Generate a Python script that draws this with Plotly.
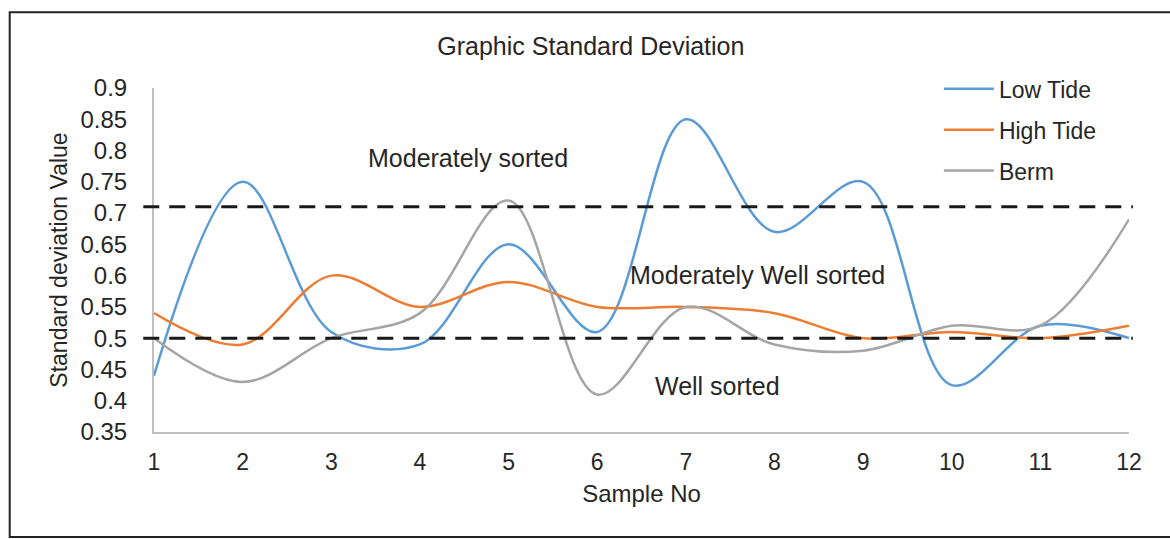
import plotly.graph_objects as go

# Sample numbers and graphic standard deviation values
samples = [1, 2, 3, 4, 5, 6, 7, 8, 9, 10, 11, 12]
low_tide = [0.44, 0.75, 0.51, 0.49, 0.65, 0.51, 0.85, 0.67, 0.75, 0.425, 0.52, 0.50]
high_tide = [0.54, 0.49, 0.60, 0.55, 0.59, 0.55, 0.55, 0.54, 0.50, 0.51, 0.50, 0.52]
berm = [0.50, 0.43, 0.50, 0.54, 0.72, 0.41, 0.55, 0.49, 0.48, 0.52, 0.52, 0.69]

# Sorting class boundaries
upper_limit = 0.71
lower_limit = 0.50

y_ticks = [0.35, 0.4, 0.45, 0.5, 0.55, 0.6, 0.65, 0.7, 0.75, 0.8, 0.85, 0.9]
y_tick_text = ["0.35", "0.4", "0.45", "0.5", "0.55", "0.6", "0.65", "0.7",
               "0.75", "0.8", "0.85", "0.9"]

FONT = "Liberation Sans, Arial, sans-serif"
TEXT = "#262626"

fig = go.Figure()
series = [("Low Tide", low_tide, "#5B9BD5"),
          ("High Tide", high_tide, "#ED7D31"),
          ("Berm", berm, "#A5A5A5")]
for name, vals, color in series:
    fig.add_trace(go.Scatter(
        x=samples, y=vals, name=name, mode="lines", legendgroup=name,
        line=dict(color=color, width=2.5, shape="spline", smoothing=1.0),
    ))

# Dashed class boundaries
for level in (upper_limit, lower_limit):
    fig.add_shape(type="line", xref="paper", yref="y",
                  x0=-0.011, x1=1.004, y0=level, y1=level,
                  line=dict(color="#1a1a1a", width=3, dash="16px,10px"))

# Outer frame
fig.add_shape(type="rect", xref="paper", yref="paper",
              x0=-0.148, x1=1.1, y0=-0.305, y1=1.22,
              line=dict(color="#222222", width=2), layer="above")

labels = [("Moderately sorted", 4.54, 0.788),
          ("Moderately Well sorted", 7.81, 0.601),
          ("Well sorted", 7.36, 0.4236)]
for text, x, y in labels:
    fig.add_annotation(x=x, y=y, text=text, showarrow=False,
                       font=dict(family=FONT, size=25, color=TEXT))

fig.update_layout(
    width=1170, height=539,
    margin=dict(l=154, r=41, t=88, b=107),
    paper_bgcolor="white", plot_bgcolor="white",
    font=dict(family=FONT, color=TEXT),
    title=dict(text="Graphic Standard Deviation", x=0.505, xanchor="center",
               y=0.915, yanchor="middle",
               font=dict(family=FONT, size=25, color=TEXT)),
    legend=dict(x=0.805, y=1.06, xanchor="left", yanchor="top",
                font=dict(family=FONT, size=23, color=TEXT),
                tracegroupgap=8, bgcolor="rgba(0,0,0,0)", itemwidth=50),
    xaxis=dict(range=[1, 12], tickvals=samples, showgrid=False, zeroline=False,
               showline=True, linecolor="#BFBFBF", linewidth=2, ticks="",
               tickfont=dict(family=FONT, size=23, color=TEXT), ticklabelstandoff=8,
               title=dict(text="Sample No", standoff=12,
                          font=dict(family=FONT, size=24, color=TEXT))),
    yaxis=dict(range=[0.35, 0.9], tickvals=y_ticks, ticktext=y_tick_text,
               showgrid=False, zeroline=False,
               showline=True, linecolor="#BFBFBF", linewidth=2, ticks="",
               tickfont=dict(family=FONT, size=24, color=TEXT), ticklabelstandoff=20,
               title=dict(text="Standard deviation Value", standoff=6,
                          font=dict(family=FONT, size=23, color=TEXT))),
)

fig.write_html("out.html")
